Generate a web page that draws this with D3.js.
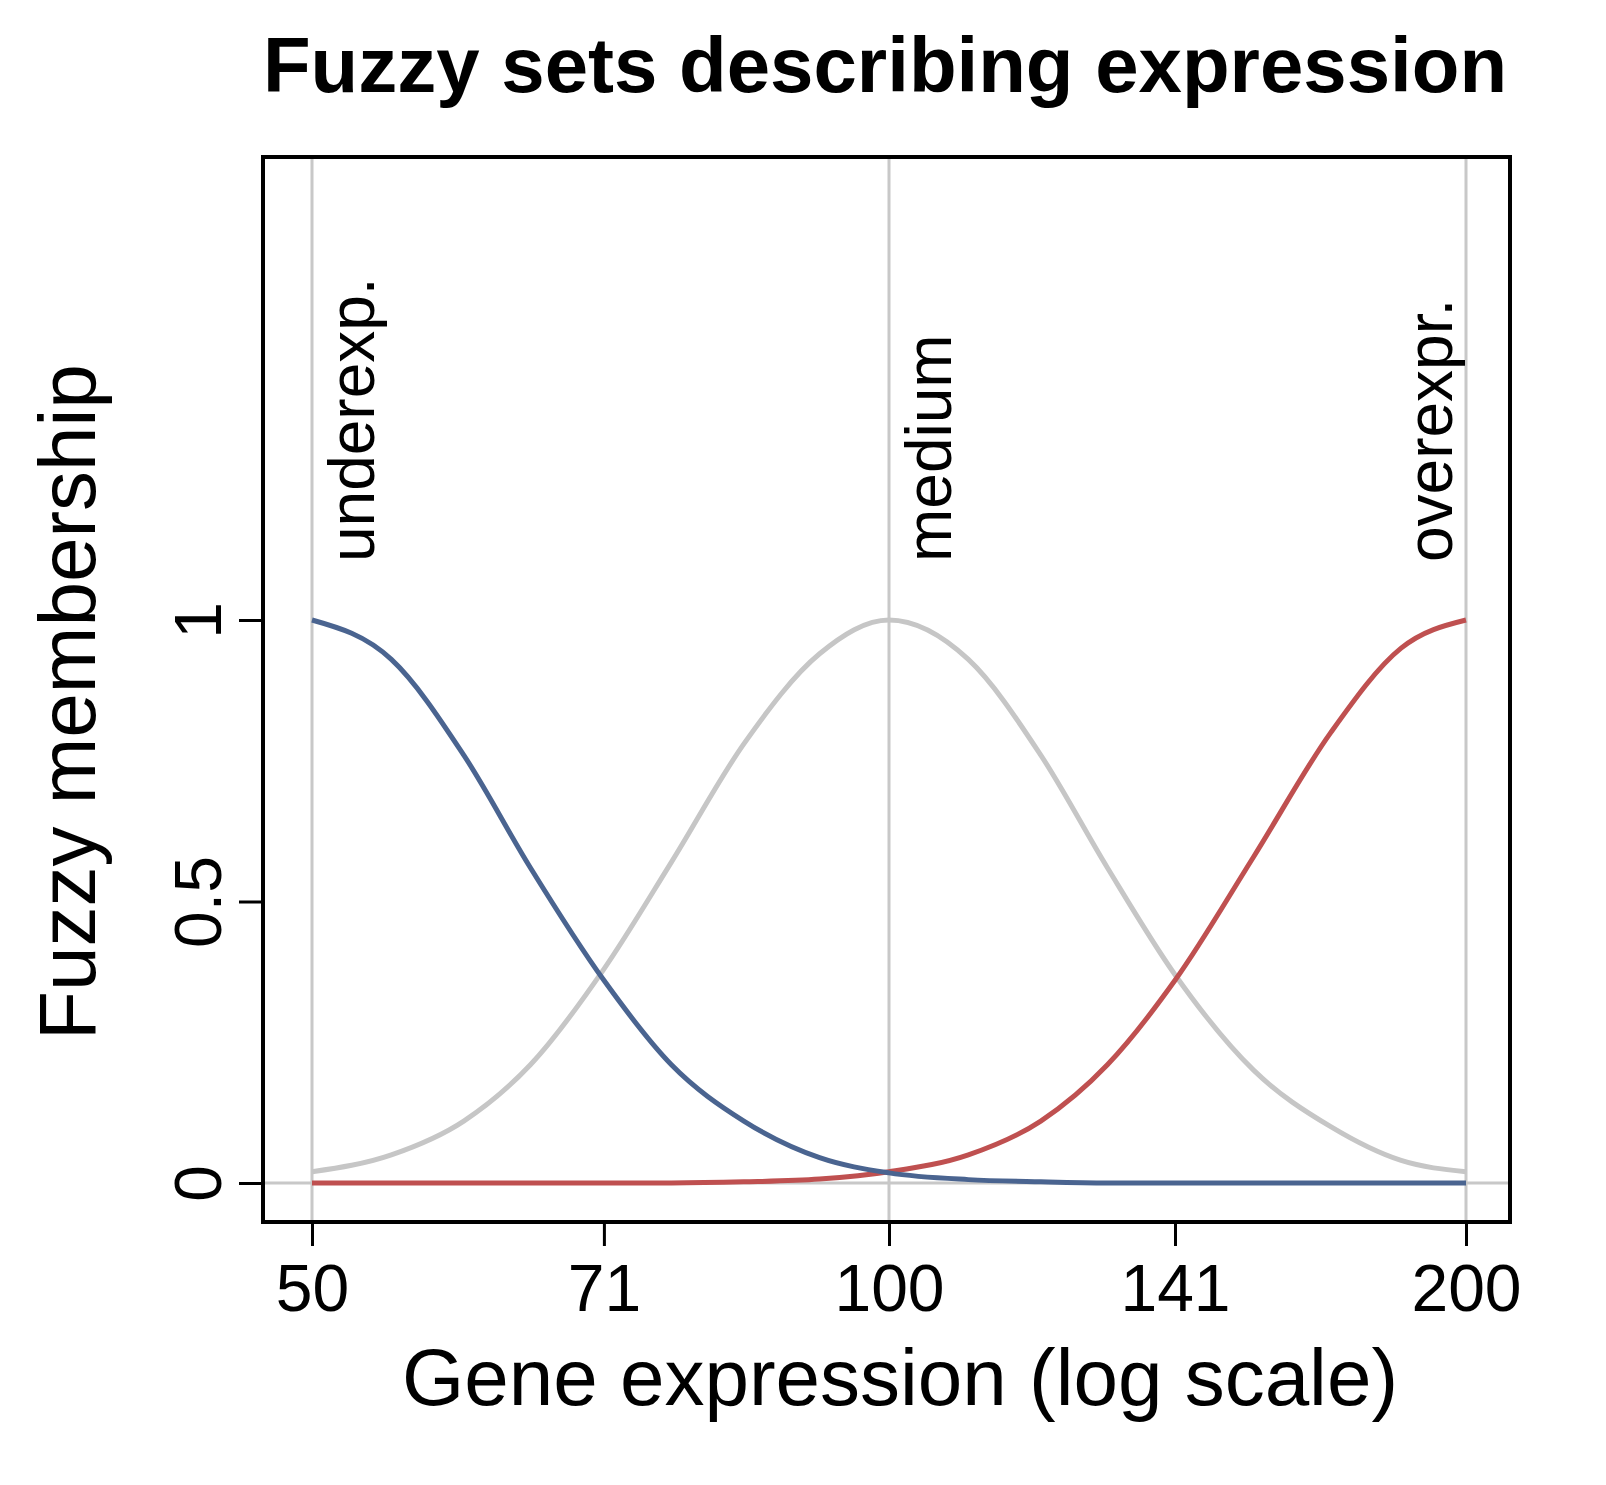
<!DOCTYPE html>
<html><head><meta charset="utf-8">
<script src="https://cdn.jsdelivr.net/npm/d3@7"></script>
<style>body{margin:0;background:#fff}text{font-family:"Liberation Sans",Arial,sans-serif}</style>
</head><body><div id="app"></div>
<script>
const xs = [50, 55, 60, 65, 71, 77, 84, 92, 100, 110, 120, 130, 141, 155, 170, 185, 200];
const under = [1, 0.93, 0.76, 0.56, 0.36, 0.21, 0.11, 0.045, 0.018, 0.006, 0.002, 0, 0, 0, 0, 0, 0];
const medium = [0.02, 0.05, 0.11, 0.21, 0.38, 0.57, 0.78, 0.94, 1, 0.93, 0.76, 0.56, 0.37, 0.2, 0.1, 0.04, 0.02];
const over = [0, 0, 0, 0, 0, 0, 0.002, 0.007, 0.02, 0.05, 0.11, 0.21, 0.36, 0.58, 0.8, 0.95, 1];
const xTicks = [50, 71, 100, 141, 200];
const yTicks = [0, 0.5, 1];
const setLabels = [{x: 50, t: 'underexp.', dx: 62}, {x: 100, t: 'medium', dx: 62}, {x: 200, t: 'overexpr.', dx: -14}];

const W = 1606, H = 1485;
const L = 263, R = 1510, T = 157, B = 1222;
const svg = d3.select('#app').append('svg').attr('width', W).attr('height', H);

const x = d3.scaleLog().domain([50, 200]).range([312, 1466]);
const y = d3.scaleLinear().domain([0, 1]).range([1183, 620]);

svg.selectAll('.vl').data(setLabels).enter().append('line')
  .attr('x1', d => x(d.x)).attr('x2', d => x(d.x)).attr('y1', T).attr('y2', B)
  .attr('stroke', '#c8c8c8').attr('stroke-width', 3);
svg.append('line').attr('x1', L).attr('x2', R).attr('y1', y(0)).attr('y2', y(0))
  .attr('stroke', '#c8c8c8').attr('stroke-width', 3);

const line = d3.line().x((d, i) => x(xs[i])).y(d => y(d)).curve(d3.curveMonotoneX);
[[medium, '#c6c6c6'], [over, '#bf5050'], [under, '#4a6490']].forEach(([s, c]) => {
  svg.append('path').attr('d', line(s)).attr('fill', 'none').attr('stroke', c).attr('stroke-width', 5);
});

svg.append('rect').attr('x', L).attr('y', T).attr('width', R - L).attr('height', B - T)
  .attr('fill', 'none').attr('stroke', '#000').attr('stroke-width', 4);

const font = '"Liberation Sans",Arial,sans-serif';
const xg = svg.append('g').attr('transform', `translate(0,${B})`)
  .call(d3.axisBottom(x).tickValues(xTicks).tickFormat(d3.format('d')).tickSize(24).tickPadding(18));
xg.select('.domain').attr('d', `M${x(50)},0H${x(200)}`).attr('stroke-width', 3);
xg.selectAll('.tick line').attr('stroke-width', 3);
xg.selectAll('text').attr('font-size', 66).attr('fill', '#000').attr('font-family', font);

const yg = svg.append('g').attr('transform', `translate(${L},0)`)
  .call(d3.axisLeft(y).tickValues(yTicks).tickFormat(d => d).tickSize(24).tickPadding(8));
yg.select('.domain').attr('d', `M0,${y(0)}V${y(1)}`).attr('stroke-width', 3);
yg.selectAll('.tick line').attr('stroke-width', 3);
yg.selectAll('text').attr('font-size', 66).attr('fill', '#000').attr('font-family', font)
  .attr('x', 0).attr('y', 0).attr('dy', 0).attr('text-anchor', 'middle')
  .attr('transform', 'translate(-42,0) rotate(-90)');

svg.selectAll('.sl').data(setLabels).enter().append('text')
  .attr('transform', d => `translate(${x(d.x) + d.dx},562) rotate(-90)`)
  .attr('font-size', 64).text(d => d.t);

svg.append('text').attr('x', 885).attr('y', 92).attr('text-anchor', 'middle')
  .attr('font-size', 78).attr('font-weight', 'bold').text('Fuzzy sets describing expression');
svg.append('text').attr('x', 900).attr('y', 1405).attr('text-anchor', 'middle')
  .attr('font-size', 80).text('Gene expression (log scale)');
svg.append('text').attr('transform', 'translate(95,702) rotate(-90)').attr('text-anchor', 'middle')
  .attr('font-size', 80).text('Fuzzy membership');
</script></body></html>
